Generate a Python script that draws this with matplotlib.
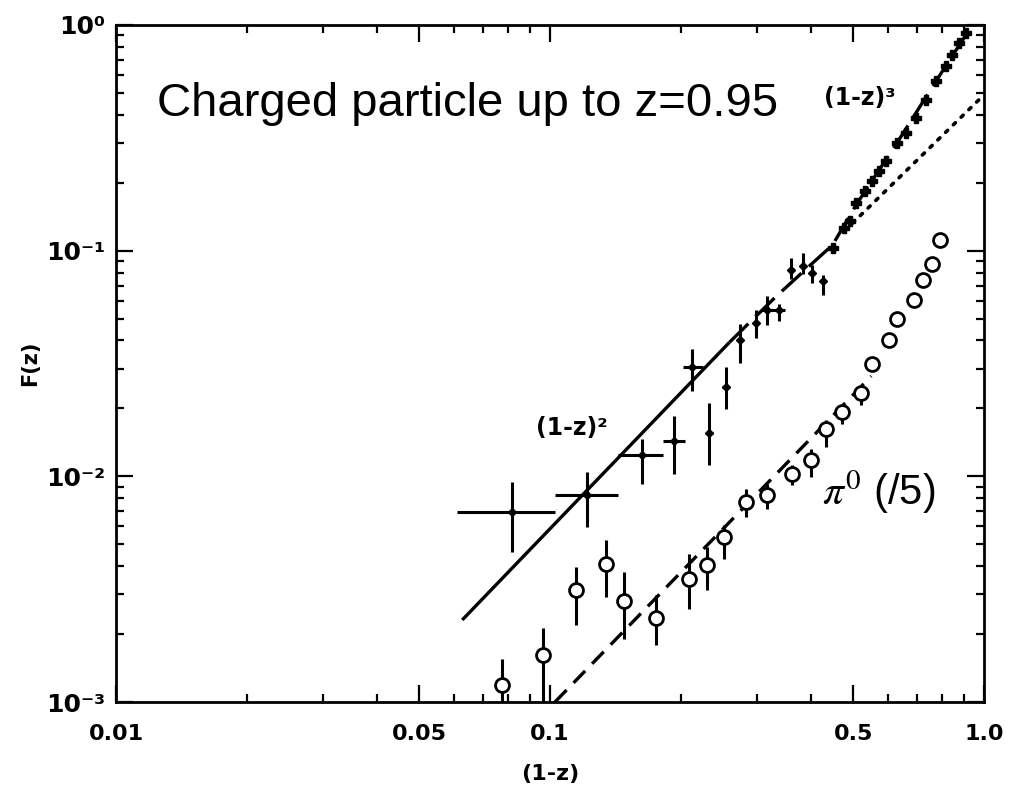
"""
F(z) vs (1-z): charged particles and pi0 (/5), log-log with power-law fits.
Values read off the scanned figure.
"""

import numpy as np
import matplotlib
matplotlib.use('Agg')
import matplotlib.pyplot as plt

plt.rcParams['mathtext.fontset'] = 'stix'

# ---- charged particles with error bars (value, bar ends) ----
ch_x   = [0.0819, 0.122, 0.163, 0.193, 0.213, 0.233, 0.254, 0.274, 0.298,
          0.317, 0.338, 0.360, 0.382, 0.402, 0.425]
ch_y   = [0.00693, 0.00824, 0.0124, 0.0144, 0.0304, 0.0155, 0.025, 0.040,
          0.048, 0.0548, 0.0548, 0.0824, 0.0858, 0.0799, 0.0737]
ch_ylo = [0.0046, 0.00595, 0.00922, 0.0102, 0.0240, 0.0112, 0.0198, 0.0319,
          0.0412, 0.0466, 0.049, 0.075, 0.079, 0.072, 0.0639]
ch_yhi = [0.00941, 0.01042, 0.01458, 0.0186, 0.0365, 0.0212, 0.0304, 0.0471,
          0.0548, 0.0632, 0.058, 0.093, 0.098, 0.086, 0.078]
ch_xlo = [0.0611, 0.1027, 0.1433, 0.182, 0.2022, 0.229, 0.249, 0.270, 0.293,
          0.307, 0.333, 0.354, 0.376, 0.397, 0.420]
ch_xhi = [0.1027, 0.1433, 0.182, 0.2043, 0.225, 0.237, 0.259, 0.278, 0.303,
          0.3487, 0.343, 0.366, 0.388, 0.407, 0.430]

# ---- charged particles at large (1-z), tiny errors ----
hi_x = [0.448, 0.477, 0.491, 0.508, 0.532, 0.553, 0.5735, 0.595, 0.631,
        0.662, 0.698, 0.736, 0.776, 0.818, 0.844, 0.876, 0.909]
hi_y = [0.103, 0.1264, 0.136, 0.163, 0.184, 0.204, 0.226, 0.250, 0.301,
        0.333, 0.388, 0.466, 0.565, 0.659, 0.737, 0.832, 0.922]

# ---- pi0 (/5) ----
pi_x   = [0.0776, 0.0964, 0.1148, 0.1345, 0.148, 0.176, 0.2087, 0.230,
          0.2523, 0.2836, 0.317, 0.362, 0.400, 0.433, 0.4716, 0.5215,
          0.553, 0.6047, 0.631, 0.690, 0.724, 0.760, 0.792]
pi_y   = [0.00119, 0.00161, 0.00313, 0.00408, 0.0028, 0.00235, 0.0035,
          0.00404, 0.00537, 0.00767, 0.00824, 0.0102, 0.01177, 0.01614,
          0.0192, 0.0233, 0.0313, 0.040, 0.050, 0.0607, 0.0744, 0.0876, 0.112]
pi_ylo = [0.0009, 0.0009, 0.00219, 0.00292, 0.0019, 0.00179, 0.00258,
          0.00312, 0.0043, 0.00659, 0.00714, 0.00912, 0.0099, 0.01344,
          0.0170, 0.0206, 0.0313, 0.040, 0.050, 0.0607, 0.0744, 0.0876, 0.112]
pi_yhi = [0.00155, 0.00212, 0.00396, 0.00521, 0.00376, 0.00297, 0.00452,
          0.00484, 0.00607, 0.00876, 0.00922, 0.0112, 0.01316, 0.0177,
          0.0206, 0.0255, 0.0313, 0.040, 0.050, 0.0607, 0.0744, 0.0876, 0.112]

# ---- fit curves ----
fit2_x = [0.0628, 0.259]
fit2_y = [0.00231, 0.0392]
fit3_x = [0.259, 0.33, 0.40, 0.448, 0.508, 0.631, 0.776, 0.924]
fit3_y = [0.0392, 0.062, 0.087, 0.106, 0.160, 0.301, 0.565, 0.95]
dot_x  = [0.478, 1.0]
dot_y  = [0.1226, 0.49]
pifit_x = [0.1027, 0.55]
pifit_y = [0.001, 0.0278]

XTICKS = [0.01, 0.05, 0.1, 0.5, 1.0]
XTICKLABELS = ['0.01', '0.05', '0.1', '0.5', '1.0']
YTICKS = [1e-3, 1e-2, 1e-1, 1e0]
YTICKLABELS = ['10\u207b\u00b3', '10\u207b\u00b2', '10\u207b\u00b9', '10\u2070']


def asym(v, lo, hi):
    v, lo, hi = map(np.asarray, (v, lo, hi))
    return np.vstack([v - lo, hi - v])


fig = plt.figure(figsize=(10.17, 7.98), dpi=100)
ax = fig.add_axes([0.114, 0.1203, 0.8535, 0.8484])
ax.set_xscale('log')
ax.set_yscale('log')
ax.set_xlim(0.01, 1.0)
ax.set_ylim(1e-3, 1.0)

# fit lines
ax.plot(fit2_x, fit2_y, color='black', lw=2.4, solid_capstyle='butt')
ax.plot(fit3_x, fit3_y, color='black', lw=2.4, dashes=(8, 3))
ax.plot(dot_x, dot_y, color='black', lw=2.6, dashes=(0.8, 2.2),
        dash_capstyle='round')
ax.plot(pifit_x, pifit_y, color='black', lw=2.4, dashes=(5, 3))

# charged particles
ax.errorbar(ch_x, ch_y,
            xerr=asym(ch_x, ch_xlo, ch_xhi),
            yerr=asym(ch_y, ch_ylo, ch_yhi),
            fmt='D', ms=4, color='black', ecolor='black',
            elinewidth=2.2, capsize=0, zorder=3)
ax.plot(hi_x, hi_y, 'P', ms=7, color='black', zorder=3)

# pi0
ax.errorbar(pi_x, pi_y, yerr=asym(pi_y, pi_ylo, pi_yhi),
            fmt='o', ms=10, mfc='white', mec='black', mew=2,
            ecolor='black', elinewidth=2.2, capsize=0, zorder=4)

# ticks
ax.set_xticks(XTICKS)
ax.set_xticklabels(XTICKLABELS, fontsize=16, fontweight='bold')
ax.set_yticks(YTICKS)
ax.set_yticklabels(YTICKLABELS, fontsize=18, fontweight='bold')
ax.tick_params(which='both', direction='in', top=True, right=True,
               width=1.6)
ax.tick_params(which='major', length=12)
ax.tick_params(axis='x', which='major', pad=16)
ax.tick_params(axis='y', which='major', pad=8)
ax.tick_params(which='minor', length=6)
for s in ax.spines.values():
    s.set_linewidth(2)

ax.set_xlabel('(1-z)', fontsize=16, fontweight='bold', labelpad=14)
ax.set_ylabel('F(z)', fontsize=15, fontweight='bold', labelpad=4)

# annotations
ax.text(0.047, 0.883, 'Charged particle up to z=0.95',
        transform=ax.transAxes, fontsize=34, family='Liberation Sans',
        va='center', ha='left')
ax.text(0.813, 0.310, r'$\pi^0$ (/5)', transform=ax.transAxes,
        fontsize=30, family='Liberation Sans', va='center', ha='left')
ax.text(0.525, 0.405, '(1-z)\u00b2', transform=ax.transAxes,
        fontsize=17, fontweight='bold', va='center', ha='center')
ax.text(0.857, 0.892, '(1-z)\u00b3', transform=ax.transAxes,
        fontsize=17, fontweight='bold', va='center', ha='center')

fig.savefig('out.png', dpi=100)
